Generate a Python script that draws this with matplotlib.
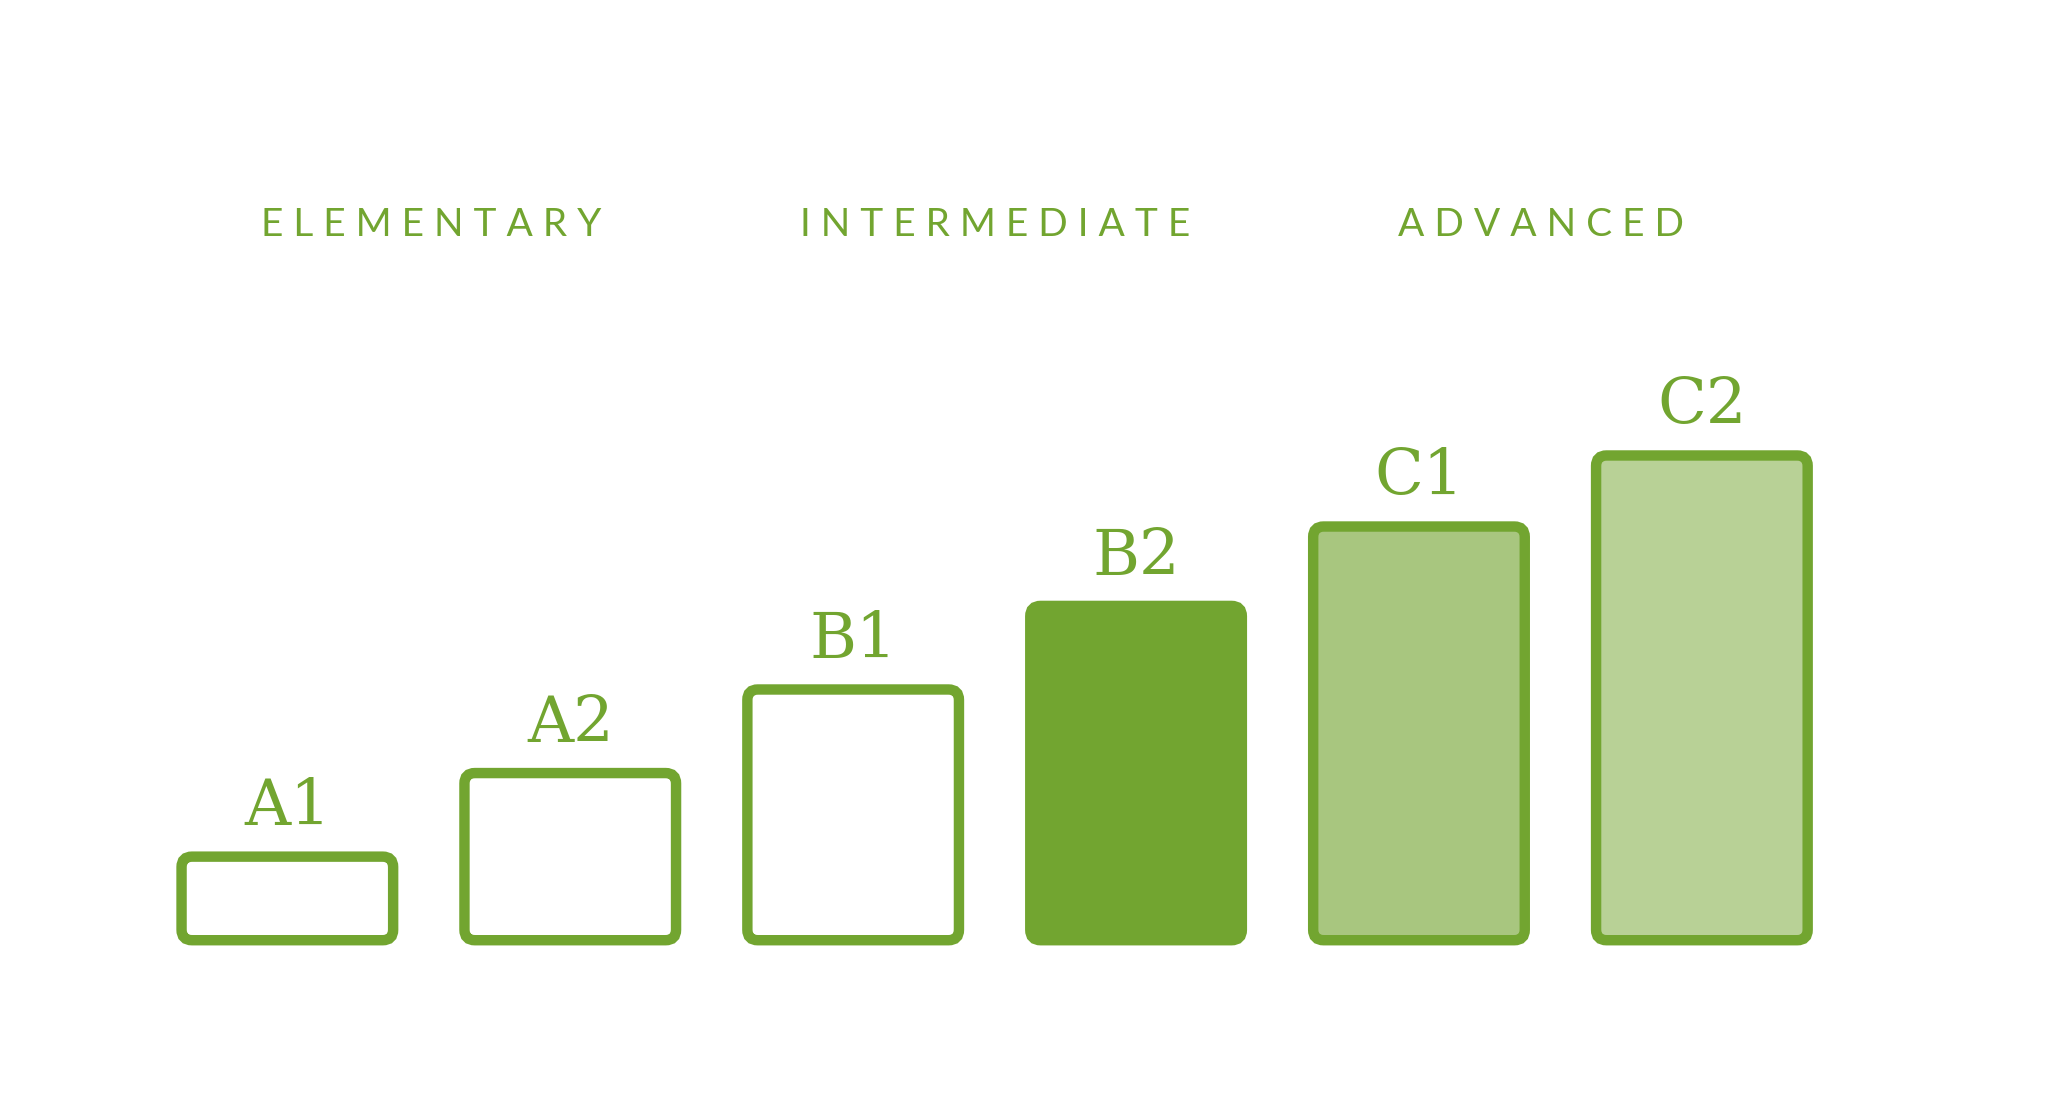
import matplotlib
matplotlib.use("Agg")
import matplotlib.pyplot as plt
from matplotlib.patches import FancyBboxPatch

levels = ["A1", "A2", "B1", "B2", "C1", "C2"]
values = [1.0, 2.0, 3.0, 4.0, 4.95, 5.8]
groups = ["ELEMENTARY", "INTERMEDIATE", "ADVANCED"]
fills = ["white", "white", "white", "#72a530", "#a8c67f", "#b8d196"]
green = "#72a530"

W, H = 1568, 837
fig = plt.figure(figsize=(20.48, 10.93), dpi=100)
ax = fig.add_axes([0, 0, 1, 1])
unit = 64.0
ax.set_xlim(0, W)
ax.set_ylim(-(H - 720) / unit, 720 / unit)
ax.axis("off")

x0, bw, step = 139, 162, 216.6
r = 8
for i, (lab, v, fc) in enumerate(zip(levels, values, fills)):
    x = x0 + i * step
    p = FancyBboxPatch((x + r, r / unit), bw - 2 * r, v - 2 * r / unit,
                       boxstyle=f"round,pad={r}", mutation_aspect=1 / unit,
                       fc=fc, ec=green, lw=7.5)
    ax.add_patch(p)
    ax.text(x + bw / 2, v + 24 / unit, lab, ha="center", va="baseline",
            fontsize=46, color=green, family="DejaVu Serif")

gx = [330, 762, 1180]
for g, x in zip(groups, gx):
    ax.text(x, (720 - 181) / unit, " ".join(g).replace("   ", "  "), ha="center",
            va="baseline", fontsize=28, color=green, family="Lato")

fig.savefig("out.png", dpi=100, facecolor="white")
